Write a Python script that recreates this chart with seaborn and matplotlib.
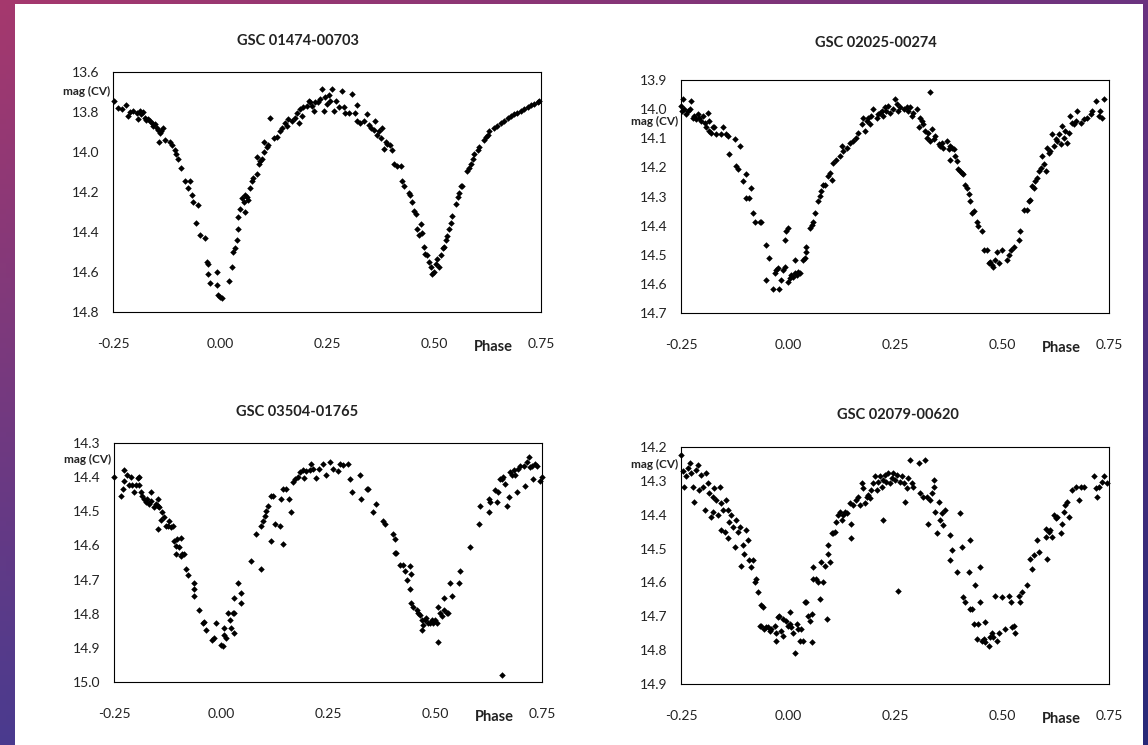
import numpy as np
import matplotlib
matplotlib.use("Agg")
import matplotlib.pyplot as plt
from matplotlib.patches import Rectangle
import seaborn as sns

# phase / magnitude
p1_phase = [
    -0.248, -0.238, -0.230, -0.219, -0.215, -0.211, -0.203, -0.195, -0.191, -0.188,
    -0.184, -0.180, -0.176, -0.172, -0.168, -0.164, -0.160, -0.156, -0.152, -0.148,
    -0.145, -0.141, -0.137, -0.133, -0.142, -0.129, -0.117, -0.113, -0.105, -0.102,
    -0.098, -0.090, -0.082, -0.070, -0.074, -0.066, -0.063, -0.051, -0.055, -0.047,
    -0.035, -0.031, -0.027, -0.027, -0.023, -0.008, -0.006, -0.004, 0.000, 0.004,
    0.020, 0.027, 0.031, 0.035, 0.039, 0.043, 0.043, 0.047, 0.051, 0.055,
    0.059, 0.063, 0.059, 0.066, 0.070, 0.074, 0.078, 0.086, 0.086, 0.090,
    0.094, 0.098, 0.102, 0.103, 0.109, 0.113, 0.117, 0.125, 0.133, 0.141,
    0.145, 0.152, 0.156, 0.160, 0.168, 0.176, 0.180, 0.184, 0.188, 0.191,
    0.195, 0.203, 0.207, 0.211, 0.215, 0.219, 0.223, 0.230, 0.234, 0.238,
    0.242, 0.246, 0.250, 0.254, 0.258, 0.262, 0.266, 0.270, 0.277, 0.285,
    0.289, 0.293, 0.301, 0.309, 0.316, 0.320, 0.320, 0.328, 0.336, 0.344,
    0.348, 0.352, 0.359, 0.363, 0.367, 0.371, 0.375, 0.379, 0.383, 0.387,
    0.391, 0.398, 0.402, 0.406, 0.414, 0.422, 0.426, 0.430, 0.441, 0.445,
    0.449, 0.453, 0.457, 0.461, 0.465, 0.469, 0.473, 0.477, 0.480, 0.484,
    0.488, 0.492, 0.496, 0.500, 0.504, 0.508, 0.512, 0.516, 0.520, 0.523,
    0.527, 0.531, 0.535, 0.539, 0.543, 0.551, 0.555, 0.559, 0.563, 0.566,
    0.578, 0.582, 0.586, 0.590, 0.594, 0.602, 0.605, 0.617, 0.621, 0.625,
    0.629, 0.641, 0.648, 0.656, 0.664, 0.672, 0.680, 0.688, 0.695, 0.703,
    0.711, 0.719, 0.727, 0.734, 0.742, 0.746,
]
p1_mag = [
    13.746, 13.780, 13.786, 13.763, 13.820, 13.800, 13.794, 13.803, 13.837, 13.794,
    13.811, 13.800, 13.829, 13.840, 13.834, 13.846, 13.854, 13.872, 13.858, 13.880,
    13.889, 13.906, 13.897, 13.880, 13.949, 13.940, 13.949, 13.966, 13.992, 14.009,
    14.035, 14.078, 14.147, 14.147, 14.181, 14.215, 14.250, 14.264, 14.353, 14.413,
    14.430, 14.551, 14.559, 14.611, 14.654, 14.602, 14.666, 14.714, 14.723, 14.728,
    14.645, 14.576, 14.499, 14.482, 14.439, 14.387, 14.327, 14.284, 14.229, 14.250,
    14.215, 14.224, 14.301, 14.241, 14.181, 14.147, 14.130, 14.112, 14.026, 14.061,
    14.044, 14.035, 14.000, 13.949, 13.975, 13.966, 13.829, 13.932, 13.923, 13.897,
    13.880, 13.854, 13.872, 13.837, 13.846, 13.829, 13.803, 13.854, 13.786, 13.820,
    13.777, 13.768, 13.743, 13.751, 13.768, 13.794, 13.751, 13.751, 13.734, 13.683,
    13.794, 13.725, 13.760, 13.717, 13.743, 13.683, 13.794, 13.743, 13.777, 13.696,
    13.777, 13.803, 13.803, 13.708, 13.803, 13.846, 13.765, 13.854, 13.846, 13.811,
    13.863, 13.880, 13.889, 13.846, 13.915, 13.897, 13.932, 13.880, 13.983, 13.949,
    13.958, 13.966, 13.992, 14.061, 14.069, 14.069, 14.147, 14.172, 14.207, 14.215,
    14.250, 14.293, 14.310, 14.387, 14.413, 14.362, 14.405, 14.473, 14.508, 14.516,
    14.551, 14.576, 14.611, 14.602, 14.559, 14.533, 14.576, 14.516, 14.482, 14.473,
    14.439, 14.422, 14.387, 14.353, 14.319, 14.258, 14.224, 14.207, 14.172, 14.172,
    14.095, 14.078, 14.061, 14.035, 14.009, 13.992, 13.975, 13.940, 13.923, 13.915,
    13.897, 13.880, 13.872, 13.854, 13.846, 13.829, 13.820, 13.811, 13.803, 13.794,
    13.786, 13.777, 13.765, 13.760, 13.751, 13.743,
]

p2_phase = [
    -0.248, -0.250, -0.246, -0.242, -0.238, -0.234, -0.230, -0.227, -0.223, -0.219,
    -0.215, -0.211, -0.207, -0.203, -0.199, -0.195, -0.191, -0.188, -0.184, -0.184,
    -0.180, -0.176, -0.172, -0.168, -0.156, -0.152, -0.145, -0.141, -0.137, -0.125,
    -0.121, -0.117, -0.113, -0.105, -0.098, -0.098, -0.090, -0.086, -0.082, -0.078,
    -0.066, -0.063, -0.051, -0.045, -0.051, -0.035, -0.031, -0.027, -0.023, -0.020,
    -0.016, -0.012, -0.008, -0.008, -0.004, 0.000, 0.000, 0.004, 0.008, 0.012,
    0.016, 0.016, 0.020, 0.023, 0.027, 0.035, 0.039, 0.043, 0.043, 0.051,
    0.055, 0.059, 0.063, 0.070, 0.074, 0.078, 0.082, 0.086, 0.094, 0.098,
    0.102, 0.105, 0.113, 0.121, 0.125, 0.129, 0.137, 0.145, 0.152, 0.160,
    0.164, 0.172, 0.176, 0.180, 0.184, 0.188, 0.191, 0.195, 0.199, 0.207,
    0.211, 0.215, 0.219, 0.223, 0.227, 0.230, 0.234, 0.238, 0.246, 0.250,
    0.254, 0.258, 0.262, 0.270, 0.277, 0.281, 0.285, 0.289, 0.293, 0.301,
    0.305, 0.309, 0.313, 0.316, 0.320, 0.324, 0.328, 0.332, 0.336, 0.340,
    0.344, 0.352, 0.355, 0.359, 0.363, 0.371, 0.375, 0.379, 0.383, 0.387,
    0.391, 0.379, 0.395, 0.398, 0.402, 0.406, 0.410, 0.414, 0.418, 0.422,
    0.426, 0.430, 0.434, 0.441, 0.445, 0.453, 0.457, 0.465, 0.469, 0.473,
    0.477, 0.480, 0.484, 0.488, 0.492, 0.500, 0.512, 0.516, 0.520, 0.527,
    0.539, 0.543, 0.551, 0.559, 0.563, 0.566, 0.570, 0.574, 0.578, 0.582,
    0.586, 0.590, 0.594, 0.598, 0.602, 0.605, 0.609, 0.613, 0.617, 0.621,
    0.625, 0.629, 0.633, 0.637, 0.641, 0.645, 0.648, 0.652, 0.656, 0.660,
    0.664, 0.668, 0.672, 0.676, 0.684, 0.691, 0.699, 0.707, 0.711, 0.719,
    0.727, 0.730, 0.734, 0.738, 0.332,
]
p2_mag = [
    14.006, 13.988, 13.965, 14.000, 14.017, 14.006, 14.000, 13.971, 14.029, 14.023,
    14.035, 14.017, 14.029, 14.040, 14.023, 14.046, 14.063, 14.012, 14.040, 14.075,
    14.081, 14.063, 14.063, 14.086, 14.086, 14.063, 14.086, 14.092, 14.155, 14.104,
    14.196, 14.207, 14.127, 14.247, 14.224, 14.305, 14.305, 14.270, 14.357, 14.386,
    14.386, 14.386, 14.466, 14.512, 14.587, 14.616, 14.564, 14.552, 14.547, 14.616,
    14.587, 14.552, 14.541, 14.449, 14.420, 14.409, 14.593, 14.581, 14.570, 14.575,
    14.564, 14.518, 14.570, 14.558, 14.564, 14.518, 14.512, 14.489, 14.472, 14.409,
    14.397, 14.386, 14.357, 14.316, 14.299, 14.282, 14.259, 14.259, 14.230, 14.219,
    14.242, 14.184, 14.173, 14.161, 14.127, 14.144, 14.132, 14.115, 14.109, 14.098,
    14.081, 14.052, 14.029, 14.075, 14.040, 14.029, 14.052, 14.023, 14.000, 14.029,
    14.017, 14.012, 14.006, 14.023, 13.994, 14.006, 13.988, 14.012, 14.000, 13.965,
    13.983, 14.006, 13.994, 14.000, 13.994, 14.006, 13.994, 14.023, 14.012, 14.000,
    14.063, 14.029, 14.040, 14.052, 14.075, 14.098, 14.081, 14.109, 14.069, 14.104,
    14.092, 14.121, 14.127, 14.115, 14.132, 14.109, 14.138, 14.127, 14.132, 14.138,
    14.161, 14.173, 14.178, 14.207, 14.213, 14.219, 14.224, 14.259, 14.270, 14.293,
    14.316, 14.357, 14.351, 14.386, 14.403, 14.420, 14.483, 14.483, 14.529, 14.524,
    14.535, 14.541, 14.518, 14.489, 14.529, 14.483, 14.518, 14.500, 14.483, 14.472,
    14.449, 14.420, 14.345, 14.345, 14.316, 14.311, 14.265, 14.270, 14.247, 14.236,
    14.213, 14.201, 14.161, 14.190, 14.213, 14.132, 14.150, 14.144, 14.086, 14.127,
    14.104, 14.109, 14.086, 14.121, 14.058, 14.098, 14.075, 14.115, 14.081, 14.023,
    14.046, 14.052, 14.040, 14.006, 14.046, 14.035, 14.029, 14.017, 14.006, 13.971,
    14.023, 14.006, 14.029, 13.965, 13.942,
]

p3_phase = [
    -0.250, -0.234, -0.230, -0.227, -0.227, -0.219, -0.215, -0.211, -0.207, -0.203,
    -0.199, -0.195, -0.191, -0.191, -0.188, -0.184, -0.180, -0.176, -0.172, -0.168,
    -0.164, -0.164, -0.156, -0.152, -0.148, -0.148, -0.145, -0.148, -0.141, -0.137,
    -0.133, -0.129, -0.125, -0.121, -0.117, -0.113, -0.109, -0.105, -0.102, -0.098,
    -0.094, -0.105, -0.094, -0.090, -0.086, -0.082, -0.076, -0.063, -0.063, -0.063,
    -0.051, -0.043, -0.039, -0.035, -0.020, -0.016, -0.012, 0.000, 0.004, 0.008,
    0.008, 0.012, 0.016, 0.020, 0.023, 0.027, 0.031, 0.031, 0.031, 0.039,
    0.047, 0.047, 0.070, 0.082, 0.094, 0.094, 0.098, 0.102, 0.105, 0.109,
    0.117, 0.117, 0.121, 0.125, 0.137, 0.141, 0.145, 0.145, 0.152, 0.160,
    0.164, 0.168, 0.172, 0.180, 0.184, 0.191, 0.195, 0.199, 0.207, 0.211,
    0.215, 0.223, 0.230, 0.238, 0.246, 0.254, 0.262, 0.273, 0.277, 0.285,
    0.297, 0.301, 0.305, 0.324, 0.328, 0.340, 0.344, 0.355, 0.363, 0.379,
    0.383, 0.402, 0.406, 0.406, 0.410, 0.418, 0.426, 0.430, 0.434, 0.441,
    0.445, 0.441, 0.445, 0.449, 0.457, 0.461, 0.465, 0.469, 0.469, 0.473,
    0.477, 0.480, 0.484, 0.488, 0.492, 0.496, 0.500, 0.504, 0.508, 0.508,
    0.512, 0.516, 0.520, 0.520, 0.527, 0.531, 0.535, 0.539, 0.555, 0.559,
    0.582, 0.602, 0.605, 0.625, 0.625, 0.629, 0.641, 0.645, 0.648, 0.652,
    0.656, 0.660, 0.664, 0.668, 0.672, 0.676, 0.680, 0.684, 0.688, 0.691,
    0.695, 0.699, 0.707, 0.711, 0.715, 0.719, 0.723, 0.727, 0.730, 0.734,
    0.738, 0.746, 0.750, 0.656,
]
p3_mag = [
    14.400, 14.454, 14.434, 14.380, 14.410, 14.393, 14.423, 14.400, 14.423, 14.444,
    14.423, 14.403, 14.423, 14.400, 14.444, 14.454, 14.464, 14.474, 14.464, 14.479,
    14.444, 14.469, 14.488, 14.479, 14.464, 14.484, 14.488, 14.552, 14.525, 14.503,
    14.518, 14.543, 14.543, 14.528, 14.547, 14.543, 14.587, 14.602, 14.582, 14.606,
    14.577, 14.626, 14.631, 14.626, 14.626, 14.668, 14.688, 14.710, 14.727, 14.749,
    14.788, 14.828, 14.823, 14.847, 14.877, 14.872, 14.828, 14.892, 14.895, 14.862,
    14.842, 14.872, 14.798, 14.818, 14.842, 14.798, 14.798, 14.857, 14.754, 14.710,
    14.739, 14.769, 14.646, 14.567, 14.668, 14.543, 14.528, 14.513, 14.498, 14.484,
    14.454, 14.587, 14.454, 14.538, 14.543, 14.464, 14.597, 14.434, 14.434, 14.464,
    14.503, 14.415, 14.405, 14.400, 14.385, 14.380, 14.403, 14.383, 14.380, 14.361,
    14.375, 14.403, 14.375, 14.361, 14.395, 14.356, 14.375, 14.383, 14.361, 14.364,
    14.361, 14.405, 14.444, 14.395, 14.464, 14.434, 14.434, 14.503, 14.479, 14.528,
    14.538, 14.567, 14.582, 14.621, 14.621, 14.656, 14.656, 14.675, 14.700, 14.661,
    14.685, 14.729, 14.769, 14.779, 14.788, 14.798, 14.803, 14.818, 14.847, 14.833,
    14.818, 14.813, 14.828, 14.828, 14.818, 14.828, 14.818, 14.828, 14.882, 14.779,
    14.798, 14.808, 14.788, 14.754, 14.798, 14.798, 14.710, 14.749, 14.710, 14.675,
    14.606, 14.538, 14.484, 14.464, 14.503, 14.474, 14.439, 14.474, 14.444, 14.405,
    14.405, 14.400, 14.420, 14.484, 14.459, 14.385, 14.395, 14.380, 14.395, 14.444,
    14.375, 14.366, 14.366, 14.425, 14.356, 14.341, 14.371, 14.366, 14.405, 14.361,
    14.366, 14.410, 14.400, 14.980,
]

p4_phase = [
    -0.250, -0.246, -0.242, -0.238, -0.234, -0.230, -0.227, -0.223, -0.219, -0.215,
    -0.211, -0.207, -0.203, -0.199, -0.195, -0.191, -0.188, -0.184, -0.180, -0.176,
    -0.176, -0.172, -0.168, -0.164, -0.160, -0.156, -0.156, -0.152, -0.148, -0.145,
    -0.141, -0.141, -0.137, -0.133, -0.129, -0.125, -0.121, -0.117, -0.113, -0.109,
    -0.105, -0.102, -0.098, -0.094, -0.090, -0.086, -0.082, -0.078, -0.074, -0.070,
    -0.063, -0.059, -0.066, -0.063, -0.055, -0.051, -0.047, -0.043, -0.039, -0.031,
    -0.027, -0.027, -0.023, -0.020, -0.016, -0.012, -0.012, -0.004, 0.000, 0.004,
    0.004, 0.008, 0.012, 0.016, 0.020, 0.023, 0.027, 0.031, 0.035, 0.039,
    0.043, 0.047, 0.051, 0.055, 0.055, 0.059, 0.059, 0.066, 0.070, 0.074,
    0.078, 0.082, 0.086, 0.090, 0.094, 0.094, 0.098, 0.102, 0.105, 0.109,
    0.113, 0.117, 0.121, 0.125, 0.129, 0.133, 0.137, 0.145, 0.148, 0.148,
    0.152, 0.160, 0.164, 0.168, 0.172, 0.176, 0.180, 0.184, 0.188, 0.191,
    0.195, 0.199, 0.203, 0.207, 0.211, 0.215, 0.219, 0.223, 0.223, 0.227,
    0.230, 0.234, 0.238, 0.242, 0.246, 0.250, 0.254, 0.258, 0.262, 0.266,
    0.270, 0.273, 0.277, 0.281, 0.285, 0.289, 0.293, 0.305, 0.309, 0.316,
    0.320, 0.324, 0.328, 0.332, 0.336, 0.340, 0.340, 0.344, 0.348, 0.352,
    0.355, 0.359, 0.363, 0.367, 0.379, 0.379, 0.383, 0.395, 0.402, 0.406,
    0.410, 0.414, 0.422, 0.426, 0.426, 0.430, 0.434, 0.438, 0.441, 0.445,
    0.449, 0.449, 0.453, 0.457, 0.461, 0.461, 0.469, 0.473, 0.477, 0.480,
    0.484, 0.488, 0.492, 0.500, 0.508, 0.516, 0.520, 0.523, 0.527, 0.531,
    0.539, 0.543, 0.547, 0.559, 0.566, 0.570, 0.574, 0.582, 0.586, 0.602,
    0.605, 0.602, 0.609, 0.613, 0.617, 0.621, 0.625, 0.629, 0.637, 0.641,
    0.645, 0.648, 0.652, 0.656, 0.664, 0.672, 0.680, 0.684, 0.691, 0.715,
    0.719, 0.723, 0.727, 0.734, 0.738, 0.746,
]
p4_mag = [
    14.223, 14.272, 14.317, 14.287, 14.262, 14.248, 14.277, 14.317, 14.361, 14.267,
    14.252, 14.327, 14.282, 14.317, 14.386, 14.277, 14.307, 14.337, 14.406, 14.391,
    14.347, 14.322, 14.356, 14.401, 14.317, 14.366, 14.446, 14.386, 14.450, 14.356,
    14.386, 14.470, 14.421, 14.401, 14.436, 14.495, 14.416, 14.450, 14.436, 14.550,
    14.490, 14.515, 14.446, 14.475, 14.535, 14.554, 14.535, 14.599, 14.589, 14.629,
    14.668, 14.673, 14.728, 14.728, 14.738, 14.733, 14.733, 14.743, 14.738, 14.728,
    14.748, 14.772, 14.703, 14.698, 14.743, 14.757, 14.708, 14.713, 14.728, 14.723,
    14.688, 14.733, 14.748, 14.807, 14.723, 14.738, 14.772, 14.738, 14.772, 14.658,
    14.658, 14.698, 14.713, 14.777, 14.693, 14.589, 14.554, 14.589, 14.599, 14.649,
    14.540, 14.599, 14.550, 14.708, 14.515, 14.490, 14.540, 14.455, 14.455, 14.450,
    14.421, 14.401, 14.391, 14.416, 14.401, 14.391, 14.396, 14.366, 14.470, 14.426,
    14.371, 14.356, 14.347, 14.371, 14.307, 14.322, 14.366, 14.347, 14.342, 14.351,
    14.327, 14.307, 14.287, 14.327, 14.302, 14.287, 14.317, 14.297, 14.416, 14.282,
    14.302, 14.277, 14.307, 14.292, 14.277, 14.297, 14.282, 14.624, 14.302, 14.287,
    14.307, 14.361, 14.322, 14.292, 14.238, 14.307, 14.317, 14.248, 14.337, 14.347,
    14.238, 14.347, 14.426, 14.356, 14.337, 14.317, 14.297, 14.391, 14.455, 14.361,
    14.416, 14.396, 14.431, 14.386, 14.460, 14.535, 14.505, 14.569, 14.396, 14.495,
    14.644, 14.658, 14.569, 14.678, 14.475, 14.678, 14.723, 14.609, 14.767, 14.723,
    14.554, 14.658, 14.772, 14.767, 14.718, 14.777, 14.787, 14.762, 14.748, 14.762,
    14.639, 14.772, 14.748, 14.644, 14.738, 14.639, 14.658, 14.733, 14.728, 14.748,
    14.639, 14.658, 14.629, 14.609, 14.530, 14.559, 14.520, 14.475, 14.510, 14.441,
    14.530, 14.465, 14.450, 14.446, 14.465, 14.401, 14.411, 14.406, 14.455, 14.426,
    14.391, 14.371, 14.361, 14.406, 14.327, 14.317, 14.356, 14.317, 14.317, 14.287,
    14.322, 14.347, 14.317, 14.302, 14.287, 14.307,
]

titles = ["GSC 01474-00703", "GSC 02025-00274", "GSC 03504-01765", "GSC 02079-00620"]
y_ranges = [(13.6, 14.8, 0.2), (13.9, 14.7, 0.1), (14.3, 15.0, 0.1), (14.2, 14.9, 0.1)]
x_ticks = [-0.25, 0.0, 0.25, 0.5, 0.75]

sns.set_theme(style="white")
plt.rcParams["font.family"] = ["Lato", "DejaVu Sans"]

W, H = 1148, 745
fig = plt.figure(figsize=(W / 100, H / 100), dpi=100)

# purple slide background with a white content area
bg = fig.add_axes([0, 0, 1, 1], zorder=-10)
tl = np.array([0.65, 0.22, 0.43])
tr = np.array([0.42, 0.20, 0.50])
bl = np.array([0.29, 0.23, 0.56])
br = np.array([0.16, 0.16, 0.47])
yy, xx = np.mgrid[0:1:150j, 0:1:200j]
grad = (tl * ((1 - xx) * (1 - yy))[..., None] + tr * (xx * (1 - yy))[..., None]
        + bl * ((1 - xx) * yy)[..., None] + br * (xx * yy)[..., None])
bg.imshow(grad, aspect="auto", extent=[0, 1, 0, 1])
bg.axis("off")
fig.add_artist(Rectangle((15 / W, 0), (1143 - 15) / W, (H - 4) / H,
                         transform=fig.transFigure, facecolor="white",
                         edgecolor="none", zorder=-5))

# axes boxes in pixels: left, top, right, bottom
boxes = [(113, 72, 541, 312), (681, 80, 1109, 313),
         (114, 443, 542, 682), (681, 447, 1109, 684)]
title_pos = [(298, 41), (876, 43), (297, 412), (898, 415)]
mag_label_y = [0.92, 0.824, 0.933, 0.928]
series = [(p1_phase, p1_mag), (p2_phase, p2_mag), (p3_phase, p3_mag), (p4_phase, p4_mag)]

for i, (ph, mg) in enumerate(series):
    l, t, r, b = boxes[i]
    ax = fig.add_axes([l / W, 1 - b / H, (r - l) / W, (b - t) / H])
    ax.set_facecolor("white")
    sns.scatterplot(x=ph, y=mg, ax=ax, color="black", marker="D", s=11,
                    linewidth=0, clip_on=False, legend=False)
    lo, hi, step = y_ranges[i]
    yt = np.round(np.arange(lo, hi + step / 2, step), 2)
    ax.set_xlim(-0.25, 0.75)
    ax.set_ylim(hi, lo)
    ax.set_xticks(x_ticks)
    ax.set_xticklabels([f"{v:.2f}" for v in x_ticks])
    ax.set_yticks(yt)
    ax.set_yticklabels([f"{v:.1f}" for v in yt])
    ax.set_xlabel("")
    ax.set_ylabel("")
    ax.tick_params(axis="x", direction="out", length=5, width=0.8, color="black",
                   labelsize=10, pad=14, labelcolor="#222222")
    ax.tick_params(axis="y", direction="out", length=5, width=0.8, color="black",
                   labelsize=10, pad=5, labelcolor="#222222")
    for sp in ax.spines.values():
        sp.set_color("black")
        sp.set_linewidth(0.8)
    ax.annotate("Phase", xy=(0.888, 0), xycoords="axes fraction",
                xytext=(0, -25), textcoords="offset points",
                ha="center", va="center", fontsize=10.5, fontweight="bold",
                color="#222222")
    ax.annotate("mag (CV)", xy=(0, mag_label_y[i]), xycoords="axes fraction",
                xytext=(-2, 0), textcoords="offset points",
                ha="right", va="center", fontsize=8.5, fontweight="bold",
                color="#222222")
    tx, ty = title_pos[i]
    fig.text(tx / W, 1 - ty / H, titles[i], ha="center", va="center",
             fontsize=10.5, fontweight="bold", color="#222222")

fig.savefig("out.png", dpi=100)
